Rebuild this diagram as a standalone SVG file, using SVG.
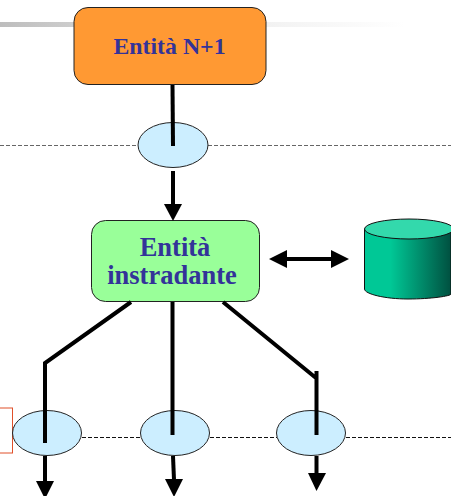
<svg xmlns="http://www.w3.org/2000/svg" width="451" height="496" viewBox="0 0 451 496">
<defs>
<linearGradient id="bar" x1="0" x2="1" y1="0" y2="0"><stop offset="0" stop-color="#bdbdbd"/><stop offset="0.18" stop-color="#cdcdcd"/><stop offset="0.66" stop-color="#f2f2f2"/><stop offset="1" stop-color="#ffffff"/></linearGradient>
<linearGradient id="cyl" x1="0" x2="1" y1="0" y2="0"><stop offset="0" stop-color="#00c896"/><stop offset="0.3" stop-color="#00c896"/><stop offset="1" stop-color="#005040"/></linearGradient>
</defs>
<style>
.lbl{font-family:"Liberation Serif",serif;font-weight:bold;fill:#333399;text-anchor:middle}
.top{font-size:23.8px}
.mid{font-size:26.5px}
.ell{fill:#cceeff;stroke:#222;stroke-width:1}
.wire{fill:none;stroke:#000;stroke-width:4}
.head{fill:#000;stroke:none}
.dash{fill:none;stroke-width:1;stroke-dasharray:4 2}
</style>
<rect x="0" y="22" width="405" height="5" fill="url(#bar)"/>
<rect x="-5" y="408" width="17.500" height="45" fill="#fff" stroke="#e0502a" stroke-width="1"/>
<g id="dashes">
<path class="dash" stroke="#666" d="M0 145.500H139M208 145.500H451"/>
<path class="dash" stroke="#111" d="M82 437.500H141M210 437.500H277M346 437.500H451"/>
</g>
<g id="n1"><rect x="74" y="7.500" width="192" height="77" rx="14" fill="#ff9933" stroke="#222" stroke-width="1"/><text class="lbl top" x="169.500" y="54">Entità N+1</text></g>
<g id="e1"><ellipse class="ell" cx="173" cy="145" rx="35" ry="22.500"/></g>
<g id="router"><rect x="91.500" y="220.500" width="168" height="81" rx="14" fill="#99ff99" stroke="#222" stroke-width="1"/><text class="lbl mid" x="175" y="256">Entità</text><text class="lbl mid" x="172" y="284">instradante</text></g>
<g id="db"><path d="M364.500 229V289C364.500 294 385 299 408 299S451 296 451 294V229Z" fill="url(#cyl)" stroke="#111" stroke-width="1"/><ellipse cx="409" cy="229" rx="44.500" ry="10" fill="#33d9ac" stroke="#111" stroke-width="1"/></g>
<g id="e2"><ellipse class="ell" cx="47" cy="433" rx="34.500" ry="22.500"/></g>
<g id="e3"><ellipse class="ell" cx="175" cy="433" rx="34.500" ry="22.500"/></g>
<g id="e4"><ellipse class="ell" cx="311" cy="433" rx="34.500" ry="22.500"/></g>
<g id="connectors">
<path class="wire" d="M172.500 85L173 146"/>
<path class="wire" d="M173 171V205"/><path class="head" d="M164 204H182L173 221Z"/>
<path class="wire" d="M286 259H332"/><path class="head" d="M269 259L287 250V268ZM349 259L331 250V268Z"/>
<path class="wire" d="M131 302L45 363V443"/>
<path class="wire" d="M172.500 302V435"/>
<path class="wire" d="M223 302L316 378M316.500 371V435"/>
<path class="wire" d="M45 456V483"/><path class="head" d="M36 481H54L45 499Z"/>
<path class="wire" d="M173 456L174 480"/><path class="head" d="M165 479H183L174 497Z"/>
<path class="wire" d="M316.500 456V475"/><path class="head" d="M308 473H326L316.500 491Z"/>
</g>
</svg>
